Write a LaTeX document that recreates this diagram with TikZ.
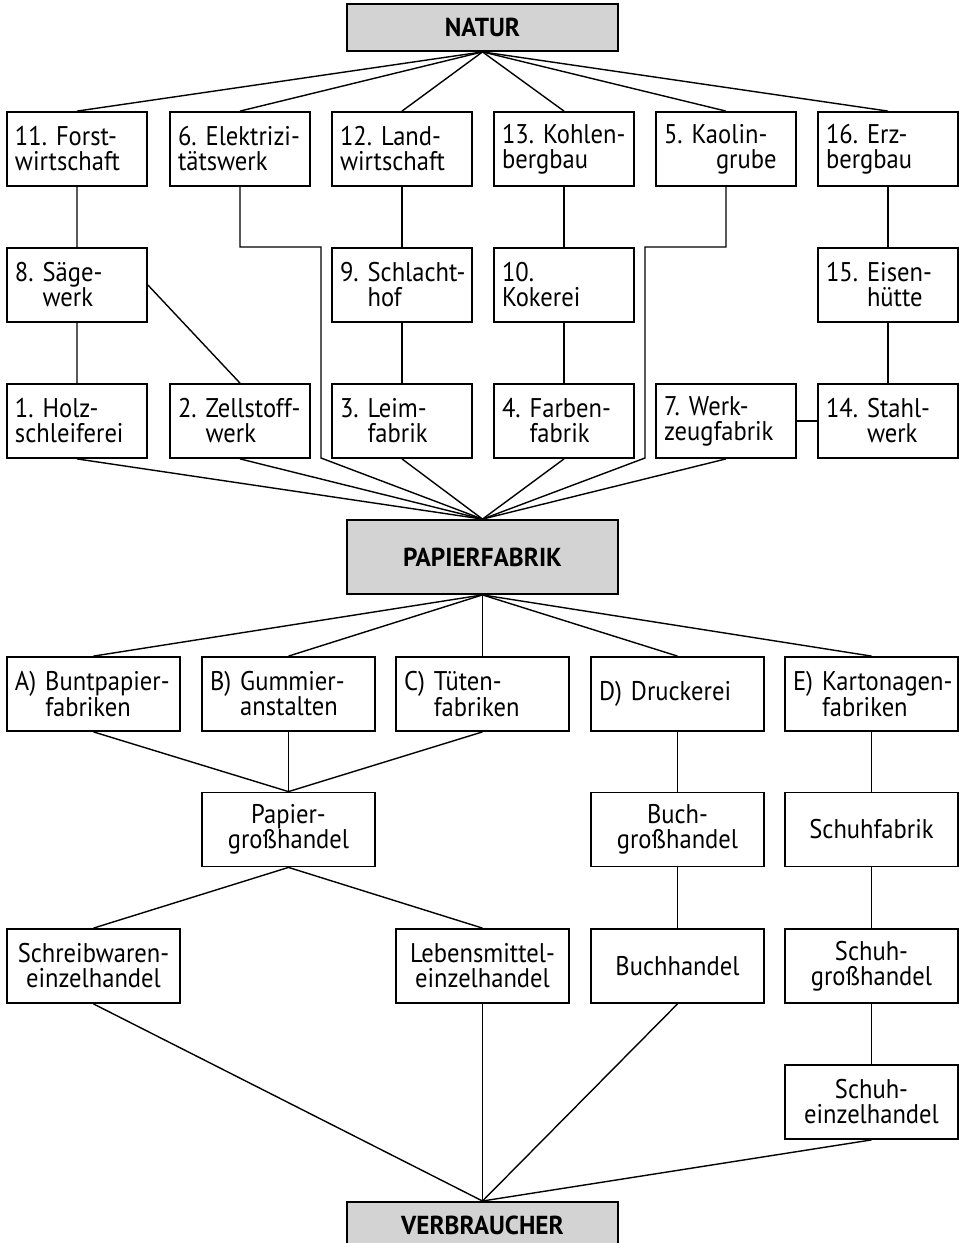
\documentclass[tikz,border=0pt]{standalone}
\usepackage{fontspec}
\setmainfont{PT Sans}[FakeStretch=0.91, BoldFeatures={FakeStretch=0.97}]
\definecolor{boxgray}{RGB}{211,211,211}
\newcommand\fsreg{\fontsize{27pt}{25pt}\selectfont\frenchspacing\exhyphenpenalty=10000 \hyphenpenalty=10000 }
\newcommand\fsbold{\fontsize{26pt}{26pt}\selectfont\bfseries}
\newcommand\hang[3]{\mbox{#1#2}\\\mbox{\hphantom{#1}#3}}
\hfuzz=100pt \hbadness=10000
\tikzset{
  box/.style={draw, line width=1.8pt, rectangle, minimum width=140pt, minimum height=74pt,
    inner xsep=8pt, inner ysep=0pt, text width=124pt, align=left, font=\fsreg},
  wbox/.style={box, minimum width=173pt, text width=157pt},
  cbox/.style={wbox, align=center},
  mainbox/.style={draw, line width=1.8pt, fill=boxgray, minimum width=271pt, inner sep=0pt, font=\fsbold},
  conn/.style={line width=1.4pt},
}
\begin{document}
\begin{tikzpicture}[x=1pt,y=-1pt]
\useasboundingbox (0,0) rectangle (959,1243);
\clip (0,0) rectangle (959,1243);
% main boxes
\node[mainbox, minimum height=47pt] (natur) at (482.5,27.5) {NATUR};
\node[mainbox, minimum height=74pt] (papier) at (482.5,557) {PAPIERFABRIK};
\node[mainbox, minimum height=47pt, anchor=north] (verb) at (482.5,1201) {VERBRAUCHER};
% row 1
\node[box] (n11) at (77,149) {\mbox{11.~Forst-}\\wirtschaft};
\node[box] (n6) at (240,149) {\mbox{6.~Elektrizi-}\\tätswerk};
\node[box] (n12) at (402,149) {\mbox{12.~Land-}\\wirtschaft};
\node[box] (n13) at (564,149) {\mbox{13.~Kohlen-}\\bergbau};
\node[box] (n5) at (726,149) {\mbox{5.~Kaolin-}\\\hspace*{52pt}grube};
\node[box] (n16) at (888,149) {\mbox{16.~Erz-}\\bergbau};
% row 2
\node[box] (n8) at (77,285) {\hang{8.~}{Säge-}{werk}};
\node[box] (n9) at (402,285) {\hang{9.~}{Schlacht-}{hof}};
\node[box] (n10) at (564,285) {10.\\Kokerei};
\node[box] (n15) at (888,285) {\hang{15.~}{Eisen-}{hütte}};
% row 3
\node[box] (n1) at (77,421) {\mbox{1.~Holz-}\\schleiferei};
\node[box] (n2) at (240,421) {\hang{2.~}{Zellstoff-}{werk}};
\node[box] (n3) at (402,421) {\hang{3.~}{Leim-}{fabrik}};
\node[box] (n4) at (564,421) {\hang{4.~}{Farben-}{fabrik}};
\node[box] (n7) at (726,421) {\mbox{7.~Werk-}\\zeugfabrik};
\node[box] (n14) at (888,421) {\hang{14.~}{Stahl-}{werk}};
% row A-E
\node[wbox] (nA) at (93.5,694) {\hang{A)~}{Buntpapier-}{fabriken}};
\node[wbox] (nB) at (288.5,694) {\hang{B)~}{Gummier-}{anstalten}};
\node[wbox] (nC) at (482.5,694) {\hang{C)~}{Tüten-}{fabriken}};
\node[wbox] (nD) at (677.5,694) {D)~Druckerei};
\node[wbox] (nE) at (871.5,694) {\hang{E)~}{Kartonagen-}{fabriken}};
% middle
\node[cbox] (pgh) at (288.5,829.5) {Papier-\\großhandel};
\node[cbox] (bgh) at (677.5,829.5) {Buch-\\großhandel};
\node[cbox] (sfab) at (871.5,829.5) {Schuhfabrik};
% lower
\node[cbox] (schreib) at (93.5,966) {\mbox{Schreibwaren-}\\einzelhandel};
\node[cbox] (leb) at (482.5,966) {\mbox{Lebensmittel-}\\einzelhandel};
\node[cbox] (bh) at (677.5,966) {Buchhandel};
\node[cbox] (sgh) at (871.5,966) {Schuh-\\großhandel};
\node[cbox] (seh) at (871.5,1102) {Schuh-\\einzelhandel};
% bend points
\coordinate (c6a) at (321,247);
\coordinate (c6b) at (321,458);
\coordinate (c5a) at (645,247);
\coordinate (c5b) at (645,458);
% connectors
\foreach \n in {n11,n6,n12,n13,n5,n16} \draw[conn] (natur.south) -- (\n.north);
\draw[conn] (n11.south) -- (n8.north) (n8.south) -- (n1.north) (n8.east) -- (n2.north);
\draw[conn] (n12.south) -- (n9.north) (n9.south) -- (n3.north);
\draw[conn] (n13.south) -- (n10.north) (n10.south) -- (n4.north);
\draw[conn] (n16.south) -- (n15.north) (n15.south) -- (n14.north);
\draw[conn] (n7.east) -- (n14.west);
\draw[conn] (n6.south) |- (c6a) -- (c6b) -- (papier.north);
\draw[conn] (n5.south) |- (c5a) -- (c5b) -- (papier.north);
\foreach \n in {n1,n2,n3,n4,n7} \draw[conn] (\n.south) -- (papier.north);
\foreach \n in {nA,nB,nC,nD,nE} \draw[conn] (papier.south) -- (\n.north);
\foreach \n in {nA,nB,nC} \draw[conn] (\n.south) -- (pgh.north);
\draw[conn] (pgh.south) -- (schreib.north) (pgh.south) -- (leb.north);
\draw[conn] (nD.south) -- (bgh.north) (bgh.south) -- (bh.north);
\draw[conn] (nE.south) -- (sfab.north) (sfab.south) -- (sgh.north) (sgh.south) -- (seh.north);
\foreach \n in {schreib,leb,bh,seh} \draw[conn] (\n.south) -- (verb.north);
\end{tikzpicture}
\end{document}
